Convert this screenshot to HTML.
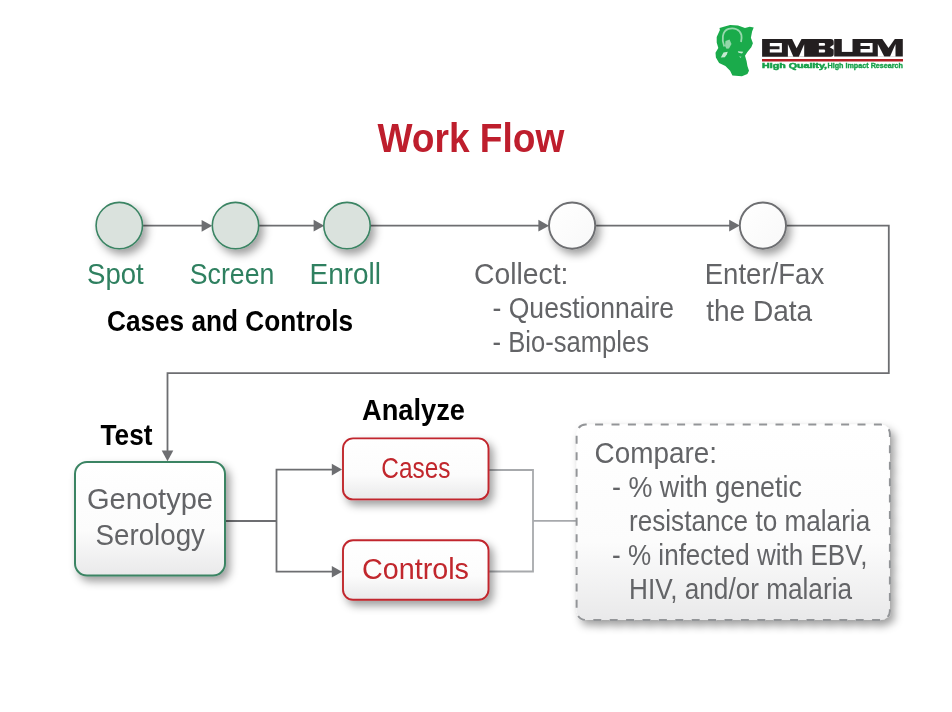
<!DOCTYPE html>
<html><head><meta charset="utf-8">
<style>
html,body{margin:0;padding:0;background:#fff;width:952px;height:712px;overflow:hidden;}
svg{display:block;will-change:transform;}
text{font-family:"Liberation Sans",sans-serif;}
</style></head>
<body>
<svg width="952" height="712" viewBox="0 0 952 712">
<defs>
  <filter id="sh" x="-30%" y="-30%" width="160%" height="160%">
    <feDropShadow dx="4" dy="5" stdDeviation="4" flood-color="#000" flood-opacity="0.38"/>
  </filter>
  <linearGradient id="gb" x1="0" y1="0" x2="0" y2="1">
    <stop offset="0" stop-color="#ffffff"/>
    <stop offset="0.6" stop-color="#fcfcfc"/>
    <stop offset="1" stop-color="#e9e9ea"/>
  </linearGradient>
  <linearGradient id="gc" x1="0" y1="0" x2="1" y2="1">
    <stop offset="0" stop-color="#ffffff"/>
    <stop offset="1" stop-color="#f8f8f8"/>
  </linearGradient>
</defs>

<!-- LOGO -->
<g id="logo">
  <path fill="#1aab4b" d="M719.5,27.9 L723.8,26.7 L730.1,25.1 L738,25.5 L745,27.9 L749.7,26.7 L753.7,27.5 L752.1,31.4 L750.9,37.7 L752.9,43.2 L751.3,47.2 L747.4,51.9 L745,55.8 L746.6,61.3 L747.4,66 L749,70.8 L747.4,73.9 L741.9,76.3 L732.4,75.5 L730.1,70.8 L725.4,66 L719.1,62.9 L715.9,57.4 L715.5,52.7 L718.3,48 L716.7,42.4 L716.7,36.9 L719.9,30 Z"/>
  <path fill="none" stroke="#fff" stroke-width="1.8" opacity="0.55" d="M724.3,46.5 C721.5,40 722,31 728.5,28.9 C734,27.2 740,29.5 741.4,35 C742,38 741.5,40 741,42"/>
  <g fill="#fff" opacity="0.75">
    <path d="M725.5,41 L729.5,39.5 L731.5,44 L729,48.5 L726.5,48.8 L725,46 Z" opacity="0.7"/>
    <path d="M720.8,57.5 L723.5,52.6 L727.8,51.8 L726.8,54.5 L724.8,57.2 Z"/>
    <path d="M737.8,51.2 L743.3,51.8 L742,53.6 L738.5,52.8 Z"/>
    <path d="M739,56.6 L741.5,56.8 L740.6,57.8 Z"/>
  </g>
  <path fill="#231f20" d="M762.1,39.1 L830.7,39.1 Q833.7,39.1 833.7,42 L833.7,54 Q833.7,56.7 830.7,56.7 L762.1,56.7 Z M834.2,39.1 L902.8,39.1 L902.8,56.6 L834.2,56.6 Z"/>
  <g fill="#fff">
    <path d="M769.8,43.1 L781.9,43.1 L781.9,52.6 L769.8,52.6 L769.8,49.2 L779.5,49.2 L779.5,46.3 L769.8,46.3 Z"/>
    <path d="M792.1,39.1 L801.5,39.1 L796.6,48.3 Z"/>
    <path d="M787.9,44.2 L787.9,56.7 L793.4,56.7 Z"/>
    <path d="M804.2,44.2 L804.2,56.7 L798.8,56.7 Z"/>
    <path d="M818.9,43 L824.5,43 Q825.9,44.4 824.5,45.8 L818.9,45.8 Z"/>
    <path d="M818.9,49.4 L824.5,49.4 Q826.1,51 824.5,52.6 L818.9,52.6 Z"/>
    <path d="M833.8,44.6 L829.7,47.3 L833.8,49.8 Z"/>
    <rect x="841.8" y="39" width="10.7" height="12.9"/>
    <path d="M860.5,42.9 L872.6,42.9 L872.6,52.6 L860.5,52.6 L860.5,49.1 L869.8,49.1 L869.8,46 L860.5,46 Z"/>
    <path d="M882.3,39.1 L894.8,39.1 L888.5,48.1 Z"/>
    <path d="M877.8,43.9 L877.8,56.7 L884.4,56.7 Z"/>
    <path d="M895.5,43.9 L895.5,56.7 L889.9,56.7 Z"/>
  </g>
  <rect x="762" y="59" width="141" height="2.5" fill="#b11d22"/>
  <g font-weight="bold" fill="#17a04a" stroke="#17a04a" stroke-width="0.35">
    <text x="762" y="68" font-size="7.2" stroke-width="0.5" textLength="65" lengthAdjust="spacingAndGlyphs">High Quality,</text>
    <text x="827.5" y="68" font-size="7.2" textLength="75.5" lengthAdjust="spacingAndGlyphs">High Impact Research</text>
  </g>
</g>

<!-- TITLE -->
<text x="377.4" y="152" font-size="40" font-weight="bold" fill="#be1e2d" textLength="187" lengthAdjust="spacingAndGlyphs">Work Flow</text>

<!-- TOP FLOW LINES -->
<g stroke="#6d6e71" stroke-width="1.8" fill="none">
  <line x1="142" y1="225.7" x2="204" y2="225.7"/>
  <line x1="258" y1="225.7" x2="316" y2="225.7"/>
  <line x1="370" y1="225.7" x2="541" y2="225.7"/>
  <line x1="595" y1="225.7" x2="732" y2="225.7"/>
  <polyline points="786,225.6 888.8,225.6 888.8,373.2 167.5,373.2 167.5,452"/>
</g>
<g fill="#6d6e71">
  <path d="M212.2,225.8 L201.6,219.9 L201.6,231.7 Z"/>
  <path d="M324.2,225.7 L313.6,219.8 L313.6,231.6 Z"/>
  <path d="M549,225.7 L538.4,219.8 L538.4,231.6 Z"/>
  <path d="M739.8,225.6 L729.2,219.7 L729.2,231.5 Z"/>
  <path d="M167.5,461.2 L161.7,450.6 L173.3,450.6 Z"/>
</g>

<!-- CIRCLES -->
<g filter="url(#sh)">
  <circle cx="119.3" cy="225.6" r="23.2" fill="#dae2dd" stroke="#3a8463" stroke-width="1.6"/>
  <circle cx="235.5" cy="225.6" r="23.2" fill="#dae2dd" stroke="#3a8463" stroke-width="1.6"/>
  <circle cx="347" cy="225.6" r="23.2" fill="#dae2dd" stroke="#3a8463" stroke-width="1.6"/>
  <circle cx="572.1" cy="225.6" r="23.1" fill="url(#gc)" stroke="#6d6e71" stroke-width="1.9"/>
  <circle cx="762.9" cy="225.6" r="23.1" fill="url(#gc)" stroke="#6d6e71" stroke-width="1.9"/>
</g>

<!-- TOP LABELS -->
<g fill="#2f8060" font-size="29">
  <text x="87" y="283.6" textLength="56.7" lengthAdjust="spacingAndGlyphs">Spot</text>
  <text x="189.8" y="283.6" textLength="84.5" lengthAdjust="spacingAndGlyphs">Screen</text>
  <text x="309.5" y="283.6" textLength="71.5" lengthAdjust="spacingAndGlyphs">Enroll</text>
</g>
<text x="107" y="330.6" font-size="29" font-weight="bold" fill="#000" textLength="246" lengthAdjust="spacingAndGlyphs">Cases and Controls</text>

<g fill="#636467" font-size="29">
  <text x="474.0" y="283.6" textLength="94.5" lengthAdjust="spacingAndGlyphs">Collect:</text>
  <text x="492.5" y="318.1" textLength="181.5" lengthAdjust="spacingAndGlyphs">- Questionnaire</text>
  <text x="492.5" y="351.9" textLength="156.5" lengthAdjust="spacingAndGlyphs">- Bio-samples</text>
  <text x="704.7" y="284.3" textLength="119.5" lengthAdjust="spacingAndGlyphs">Enter/Fax</text>
  <text x="706.2" y="321.0" textLength="106" lengthAdjust="spacingAndGlyphs">the Data</text>
</g>

<!-- LOWER SECTION -->
<text x="100.5" y="445.1" font-size="29" font-weight="bold" fill="#000" textLength="52" lengthAdjust="spacingAndGlyphs">Test</text>
<text x="362" y="420.4" font-size="29" font-weight="bold" fill="#000" textLength="103" lengthAdjust="spacingAndGlyphs">Analyze</text>

<!-- connectors dark -->
<g stroke="#6d6e71" stroke-width="1.8" fill="none">
  <line x1="225" y1="521" x2="276.5" y2="521"/>
  <polyline points="334,469.6 276.5,469.6 276.5,571.7 334,571.7"/>
</g>
<g fill="#6d6e71">
  <path d="M342,469.6 L331.8,463.8 L331.8,475.4 Z"/>
  <path d="M342,571.7 L331.8,565.9 L331.8,577.5 Z"/>
</g>
<!-- connectors light -->
<g stroke="#a7a9ac" stroke-width="1.8" fill="none">
  <polyline points="489,470 533,470 533,571.5 489,571.5"/>
  <line x1="533" y1="520.9" x2="577" y2="520.9"/>
</g>

<!-- BOXES -->
<g filter="url(#sh)">
  <rect x="75" y="462" width="150" height="113.5" rx="12" fill="url(#gb)" stroke="#3a8463" stroke-width="2"/>
  <rect x="343" y="438.4" width="145.5" height="61" rx="10" fill="url(#gb)" stroke="#c1272d" stroke-width="1.9"/>
  <rect x="343" y="540.3" width="145.5" height="59.5" rx="10" fill="url(#gb)" stroke="#c1272d" stroke-width="1.9"/>
  <rect x="576.6" y="424.6" width="313.3" height="195.3" rx="9" fill="url(#gb)" stroke="#939598" stroke-width="2" stroke-dasharray="8 8.4" stroke-dashoffset="-9.5"/>
</g>

<g fill="#636467" font-size="29">
  <text x="87.0" y="508.6" textLength="126.0" lengthAdjust="spacingAndGlyphs">Genotype</text>
  <text x="95.5" y="545.1" textLength="109.5" lengthAdjust="spacingAndGlyphs">Serology</text>
</g>
<g fill="#c1272d" font-size="29">
  <text x="381.3" y="478.1" textLength="69.2" lengthAdjust="spacingAndGlyphs">Cases</text>
  <text x="362.0" y="578.6" textLength="107.0" lengthAdjust="spacingAndGlyphs">Controls</text>
</g>
<g fill="#636467" font-size="29">
  <text x="594.5" y="462.6" textLength="122.5" lengthAdjust="spacingAndGlyphs">Compare:</text>
  <text x="612" y="496.9" textLength="190" lengthAdjust="spacingAndGlyphs">- % with genetic</text>
  <text x="629.0" y="531.1" textLength="241.2" lengthAdjust="spacingAndGlyphs">resistance to malaria</text>
  <text x="612.0" y="565.1" textLength="255.5" lengthAdjust="spacingAndGlyphs">- % infected with EBV,</text>
  <text x="629.0" y="599.4" textLength="223.0" lengthAdjust="spacingAndGlyphs">HIV, and/or malaria</text>
</g>
</svg>
</body></html>
